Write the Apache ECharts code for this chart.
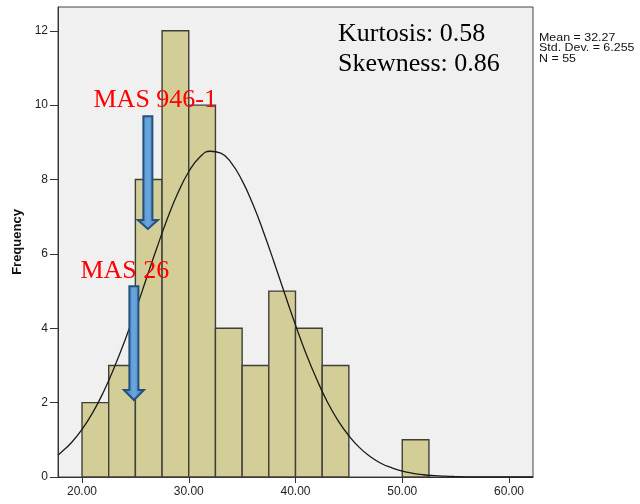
<!DOCTYPE html>
<html><head><meta charset="utf-8">
<script src="https://cdn.jsdelivr.net/npm/echarts@6/dist/echarts.min.js"></script>
<style>html,body{margin:0;padding:0;background:#fff}#c{width:640px;height:504px}</style>
</head><body><div id="c"></div>
<script>
// Histogram bins (lower edge), bin width and counts
const binStarts = [20, 22.5, 25, 27.5, 30, 32.5, 35, 37.5, 40, 42.5, 45, 47.5, 50];
const binWidth = 2.5;
const counts = [2, 3, 8, 12, 10, 4, 3, 5, 4, 3, 0, 0, 1];
// Normal curve
const curveX = [17.75,18,19,20,21,22,23,24,25,26,27,28,29,30,31,32,33,34,35,36,37,38,39,40,41,42,43,44,45,46,47,48,49,50,51,52,53,54,55,56,58,60,62.25];
const curveY = [0.59,0.65,0.92,1.28,1.73,2.28,2.93,3.66,4.46,5.31,6.15,6.95,7.65,8.21,8.59,8.76,8.71,8.44,7.97,7.34,6.59,5.77,4.92,4.09,3.31,2.62,2.01,1.51,1.11,0.79,0.55,0.37,0.25,0.16,0.10,0.06,0.036,0.021,0.012,0.006,0.002,0.0005,0.0001];
const xTicks = [20, 30, 40, 50, 60];
const yTicks = [0, 2, 4, 6, 8, 10, 12];
const statsLines = ['Mean = 32.27', 'Std. Dev. = 6.255', 'N = 55'];
const momentLines = ['Kurtosis: 0.58', 'Skewness: 0.86'];
// Annotation arrows in data coordinates
const arrows = [
  {label: 'MAS 946-1', x: 26.17, top: 9.70, head: 6.91, tip: 6.67, labelX: 26.86, labelY: 10.14},
  {label: 'MAS 26', x: 24.86, top: 5.13, head: 2.34, tip: 2.07, labelX: 24.01, labelY: 5.54}
];

const binData = binStarts.map((s, i) => [s, s + binWidth, counts[i]]);
const curveData = curveX.map((x, i) => [x, curveY[i]]);
const fmt2 = v => v.toFixed(2);

const chart = echarts.init(document.getElementById('c'), null, {renderer: 'canvas'});
const option = {
  animation: false,
  grid: {left: 58, top: 7, right: 107, bottom: 27, show: true, backgroundColor: '#f0f0f0', borderColor: '#444', borderWidth: 1},
  xAxis: {
    type: 'value', min: 17.75, max: 62.25,
    axisLine: {show: true, lineStyle: {color: '#333'}},
    axisTick: {show: true, length: 6, lineStyle: {color: '#333'}, customValues: xTicks},
    axisLabel: {customValues: xTicks, formatter: fmt2, color: '#222', fontFamily: 'Liberation Sans', fontSize: 12, margin: 9},
    splitLine: {show: false}
  },
  yAxis: {
    type: 'value', min: 0, max: 12.64,
    name: 'Frequency', nameLocation: 'middle', nameGap: 34, nameRotate: 90,
    nameTextStyle: {fontFamily: 'Liberation Sans', fontWeight: 'bold', fontSize: 13, color: '#111'},
    axisLine: {show: true, lineStyle: {color: '#333'}},
    axisTick: {show: true, length: 8, lineStyle: {color: '#333'}, customValues: yTicks},
    axisLabel: {customValues: yTicks, color: '#222', fontFamily: 'Liberation Sans', fontSize: 12, margin: 10},
    splitLine: {show: false}
  },
  series: [
    {
      type: 'custom',
      data: binData,
      renderItem: function (params, api) {
        const c = api.value(2);
        if (!c) return null;
        const p0 = api.coord([api.value(0), c]);
        const p1 = api.coord([api.value(1), 0]);
        return {type: 'rect', shape: {x: p0[0], y: p0[1], width: p1[0] - p0[0], height: p1[1] - p0[1]},
          style: {fill: '#d3ce98', stroke: '#3f3f3a', lineWidth: 1.4}};
      }
    },
    {
      type: 'line', data: curveData, showSymbol: false, smooth: true,
      lineStyle: {color: '#1a1a1a', width: 1.3}, z: 5
    }
  ]
};
chart.setOption(option);

function buildGraphics() {
  const g = [];
  arrows.forEach(a => {
    const pT = chart.convertToPixel({gridIndex: 0}, [a.x, a.top]);
    const pH = chart.convertToPixel({gridIndex: 0}, [a.x, a.head]);
    const pP = chart.convertToPixel({gridIndex: 0}, [a.x, a.tip]);
    const cx = pT[0];
    g.push({
      type: 'polygon', z: 100,
      shape: {points: [[cx - 4.5, pT[1]], [cx + 4.5, pT[1]], [cx + 4.5, pH[1]], [cx + 10, pH[1]], [cx, pP[1]], [cx - 10, pH[1]], [cx - 4.5, pH[1]]]},
      style: {fill: new echarts.graphic.LinearGradient(0, 0, 1, 0, [{offset: 0, color: '#3f7fc0'}, {offset: 0.5, color: '#6aa6de'}, {offset: 1, color: '#3f7fc0'}]), stroke: '#24507e', lineWidth: 2}
    });
    const pL = chart.convertToPixel({gridIndex: 0}, [a.labelX, a.labelY]);
    g.push({
      type: 'text', z: 101, x: pL[0], y: pL[1],
      style: {text: a.label, fill: '#ff0000', font: '26px "Liberation Serif"', textAlign: 'center', textVerticalAlign: 'middle'}
    });
  });
  momentLines.forEach((t, i) => {
    g.push({type: 'text', z: 101, x: 338, y: 34 + i * 30,
      style: {text: t, fill: '#000', font: '26px "Liberation Serif"', textVerticalAlign: 'middle'}});
  });
  statsLines.forEach((t, i) => {
    g.push({type: 'text', z: 101, x: 539, y: 37.5 + i * 10.5, scaleX: 1.13,
      style: {text: t, fill: '#111', font: '11px "Liberation Sans"', textVerticalAlign: 'middle'}});
  });
  chart.setOption({graphic: g});
}
buildGraphics();
</script>
</body></html>
